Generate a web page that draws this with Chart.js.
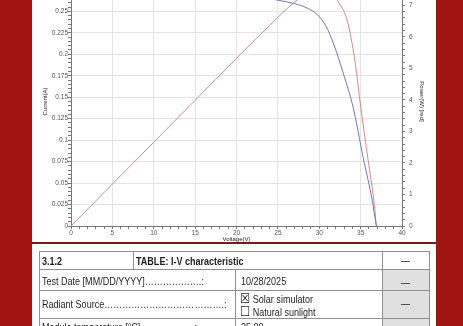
<!DOCTYPE html>
<html>
<head>
<meta charset="utf-8">
<script src="https://cdn.jsdelivr.net/npm/chart.js@4"></script>
<style>
  html, body { margin: 0; padding: 0; }
  body {
    width: 463px; height: 326px; overflow: hidden; position: relative;
    background: #a1140f;
    font-family: "Liberation Sans", Arial, sans-serif;
  }
  #page { position: absolute; left: 32px; top: 0; width: 404px; height: 326px; background: #fff; }
  #chartBox { position: absolute; left: 32px; top: -31px; width: 404px; height: 274px; }
  #rule { position: absolute; left: 32px; top: 242px; width: 404px; height: 2px; background: #6e1e1e; }
  .cell { position: absolute; box-sizing: border-box; border: 1px solid #909090; }
  .grey { background: #e0e0e0; }
  .txt {
    position: absolute; font-size: 11px; line-height: 13px; color: #1e1e1e;
    white-space: nowrap; transform: scaleX(0.82); transform-origin: 0 0;
  }
  .b { font-weight: bold; }
  .box { font-family: "DejaVu Sans", sans-serif; font-size: 14px; line-height: 13px; }
</style>
</head>
<body>
<div id="page"></div>
<div id="chartBox"><canvas id="ivChart"></canvas></div>
<div id="rule"></div>

<!-- table cells -->
<div class="cell" style="left:39px;top:251px;width:95px;height:19px"></div>
<div class="cell" style="left:133px;top:251px;width:250px;height:19px"></div>
<div class="cell" style="left:382px;top:251px;width:48px;height:19px"></div>
<div class="cell" style="left:39px;top:269px;width:197px;height:22px"></div>
<div class="cell" style="left:235px;top:269px;width:148px;height:22px"></div>
<div class="cell grey" style="left:382px;top:269px;width:48px;height:22px"></div>
<div class="cell" style="left:39px;top:290px;width:197px;height:29px"></div>
<div class="cell" style="left:235px;top:290px;width:148px;height:29px"></div>
<div class="cell grey" style="left:382px;top:290px;width:48px;height:29px"></div>
<div class="cell" style="left:39px;top:318px;width:197px;height:30px"></div>
<div class="cell" style="left:235px;top:318px;width:148px;height:30px"></div>
<div class="cell grey" style="left:382px;top:318px;width:48px;height:30px"></div>

<div class="txt b" style="left:42px;top:255px">3.1.2</div>
<div class="txt b" style="left:136px;top:255px">TABLE: I-V characteristic</div>
<div class="txt" style="left:401px;top:254px">—</div>

<div class="txt" style="left:42px;top:274.5px">Test Date [MM/DD/YYYY]……………….:</div>
<div class="txt" style="left:240.5px;top:274.5px">10/28/2025</div>
<div class="txt" style="left:401px;top:275.5px">—</div>

<div class="txt" style="left:42px;top:298px">Radiant Source………………………………….:</div>
<div class="txt" style="left:240px;top:292px"><span class="box">☒</span> Solar simulator</div>
<div class="txt" style="left:240px;top:304.5px"><span class="box">☐</span> Natural sunlight</div>
<div class="txt" style="left:401px;top:297px">—</div>

<div class="txt" style="left:42px;top:321px">Module temperature [°C]………………:</div>
<div class="txt" style="left:240.5px;top:321px">25.00</div>
<div class="txt" style="left:401px;top:321px">—</div>

<script>
// I-V curve (left axis)
const ivVoltage = [0, 5, 10, 15, 20, 23, 25, 27, 28.5, 29.8, 30.8, 31.7, 32.9, 34.1, 35.3, 36.4, 36.9];
const ivCurrent = [0.27, 0.2698, 0.2696, 0.2693, 0.2685, 0.2665, 0.263, 0.259, 0.254, 0.246, 0.233, 0.213, 0.178, 0.138, 0.08, 0.03, 0];

// P-V curve (right axis)
const pvVoltage = [0, 5, 10, 15, 20, 24, 27, 29, 30.5, 31.5, 32.2, 33.4, 34.3, 35.0, 35.9, 36.6, 36.9];
const pvPower = [0, 1.33, 2.66, 3.99, 5.32, 6.36, 7.1, 7.42, 7.5, 7.38, 7.15, 6.5, 5.25, 3.8, 2.1, 0.8, 0];

// labelled ticks
const voltageTicks = [0, 5, 10, 15, 20, 25, 30, 35, 40];
const currentTicks = [0, 0.025, 0.05, 0.075, 0.1, 0.125, 0.15, 0.175, 0.2, 0.225, 0.25];
const powerTicks = [0, 1, 2, 3, 4, 5, 6, 7];

const isMajor = (list, v) => list.some(t => Math.abs(t - v) < 1e-9);
const tickFont = { family: "Liberation Sans", size: 6.5 };
const titleFont = { family: "Liberation Sans", size: 6 };
const gridCol = list => c => isMajor(list, c.tick.value) ? '#e4e4e4' : 'rgba(0,0,0,0)';

new Chart(document.getElementById('ivChart'), {
  type: 'line',
  data: {
    datasets: [
      {
        data: ivVoltage.map((v, i) => ({ x: v, y: ivCurrent[i] })),
        yAxisID: 'y',
        borderColor: '#7676b2',
        borderWidth: 1,
        pointRadius: 0,
        cubicInterpolationMode: 'monotone'
      },
      {
        data: pvVoltage.map((v, i) => ({ x: v, y: pvPower[i] })),
        yAxisID: 'y1',
        borderColor: '#d68888',
        borderWidth: 1,
        pointRadius: 0,
        cubicInterpolationMode: 'monotone'
      }
    ]
  },
  options: {
    responsive: true,
    maintainAspectRatio: false,
    animation: false,
    layout: { padding: { top: 8, left: 0, right: 0, bottom: 0 } },
    plugins: { legend: { display: false }, tooltip: { enabled: false } },
    scales: {
      x: {
        type: 'linear', min: 0, max: 40,
        ticks: {
          stepSize: 1, autoSkip: false, maxRotation: 0, padding: 0,
          font: tickFont, color: '#555',
          callback: v => isMajor(voltageTicks, v) ? String(v) : ''
        },
        grid: { color: gridCol(voltageTicks), tickColor: '#777', tickLength: 3 },
        border: { color: '#777' },
        title: { display: true, text: 'Voltage(V)', font: titleFont, color: '#222', padding: 0 },
        afterFit: s => { s.height = 17; }
      },
      y: {
        position: 'left', min: 0, max: 0.29,
        ticks: {
          stepSize: 0.005, autoSkip: false, padding: 0,
          font: tickFont, color: '#555',
          callback: v => isMajor(currentTicks, v) ? String(Math.round(v * 1000) / 1000) : ''
        },
        grid: { color: gridCol(currentTicks), tickColor: '#777', tickLength: 3 },
        border: { color: '#777' },
        title: { display: true, text: 'Current(A)', font: titleFont, color: '#222', padding: { top: 9.4, bottom: 0 } },
        afterFit: s => { s.width = 39; }
      },
      y1: {
        position: 'right', min: 0, max: 7.9,
        ticks: {
          stepSize: 0.2, autoSkip: false, padding: 4,
          font: tickFont, color: '#555',
          callback: v => isMajor(powerTicks, v) ? String(Math.round(v)) : ''
        },
        grid: { drawOnChartArea: false, tickColor: '#777', tickLength: 3 },
        border: { color: '#777' },
        title: { display: true, text: 'Power(W) [red]', font: titleFont, color: '#222', padding: { top: 10.4, bottom: 0 } },
        afterFit: s => { s.width = 34; }
      }
    }
  }
});
</script>
</body>
</html>
